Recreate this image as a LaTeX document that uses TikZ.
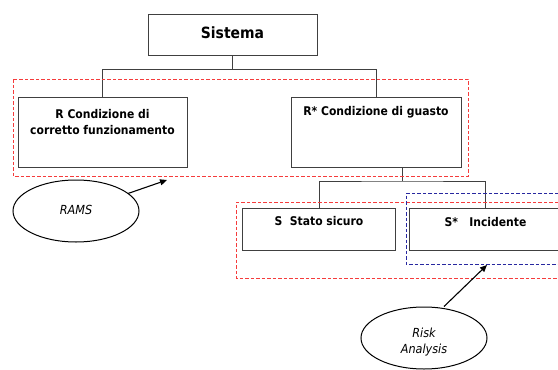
\documentclass[tikz,border=0pt]{standalone}
\usepackage{fontspec}
\setmainfont{DejaVu Sans Condensed}
\usetikzlibrary{shapes.geometric,arrows.meta,calc}
\definecolor{dred}{RGB}{245,60,60}
\definecolor{dblue}{RGB}{40,40,160}
\begin{document}
\begin{tikzpicture}[x=1pt,y=-1pt,
  box/.style={draw=black!75,line width=1pt,rectangle,inner sep=0pt},
  lbl/.style={font=\bfseries\fontsize{12}{15.5}\selectfont,align=center,anchor=north,inner sep=0pt},
  conn/.style={draw=black!75,line width=0.9pt},
  reddash/.style={draw=dred,line width=1pt,dash pattern=on 3.5pt off 2pt},
  bluedash/.style={draw=dblue,line width=1pt,dash pattern=on 3.5pt off 2pt},
  oval/.style={draw=black,line width=1pt,ellipse,inner sep=0pt,minimum width=126pt,minimum height=62pt},
  ovaltext/.style={font=\itshape\fontsize{12.5}{16.5}\selectfont,align=center,inner sep=0pt},
  arr/.style={draw=black,line width=1.1pt,-{Triangle[length=7pt,width=6pt]}}
]
\useasboundingbox (0,0) rectangle (558,370);
% boxes
\node[box,minimum width=169pt,minimum height=41pt] (sis) at (232.5,34.5) {};
\node[font=\bfseries\fontsize{15.5}{18}\selectfont,inner sep=0pt] (sist) at ($(sis.center)+(0,-1.5)$) {Sistema};
\node[box,minimum width=169pt,minimum height=70pt] (R) at (102.5,132) {};
\node[lbl] (Rt) at ($(R.north)+(0,13)$) {R Condizione di\\corretto funzionamento};
\node[box,minimum width=170pt,minimum height=70pt] (Rs) at (376,132) {};
\node[lbl] (Rst) at ($(Rs.north)+(0,10)$) {R* Condizione di guasto};
\node[box,minimum width=153pt,minimum height=42pt] (S) at (319,229) {};
\node[lbl] (St) at ($(S.north)+(0,9)$) {S\ \ Stato sicuro};
\coordinate (SsL) at (409,208);
\coordinate (SsR) at (558,250);
\coordinate (Ssn) at (485.5,208);
\draw[box] (558,208) -- (SsL) |- (SsR);
\node[lbl] (Sst) at ($(Ssn)+(0,9)$) {S*\ \ \ Incidente};
% connectors
\coordinate (j1) at ($(sis.south)+(0,14)$);
\draw[conn] (sis.south) -- (j1);
\draw[conn] (R.north) |- (j1) -| (Rs.north);
\coordinate (j2) at ($(S.north)!0.5!(Ssn)$);
\coordinate (j3) at (j2 |- 0,181);
\coordinate (j0) at (j2 |- Rs.south);
\draw[conn] (j0) -- (j3);
\draw[conn] (S.north) |- (j3) -| (Ssn);
% dashed groups
\draw[reddash] (13,79) rectangle (468,176);
\draw[reddash] (558,202) -- (236,202) -- (236,278) -- (558,278);
\draw[bluedash] (558,193.5) -- (406,193.5) -- (406,264) -- (558,264);
% ellipses
\node[oval] (rams) at (76,211) {};
\node[ovaltext] (ramst) at ($(rams.center)+(0,-1)$) {RAMS};
\node[oval] (risk) at (424,338) {};
\node[ovaltext] (riskt) at ($(risk.center)+(0,4)$) {Risk\\Analysis};
\coordinate (a1) at (167,180);
\coordinate (a2) at (487,265);
\draw[arr] (128,193.5) -- (a1);
\draw[arr] (444,306.5) -- (a2);
\end{tikzpicture}
\end{document}
